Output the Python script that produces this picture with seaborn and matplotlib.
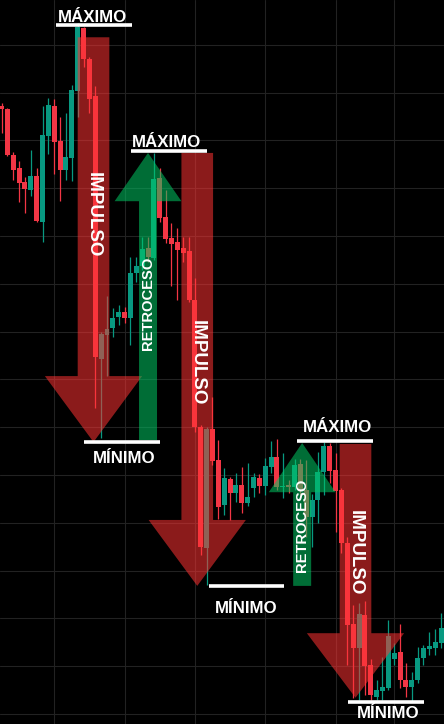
import numpy as np
import pandas as pd
import matplotlib
matplotlib.use("Agg")
import matplotlib.pyplot as plt
from matplotlib.patches import Polygon
import seaborn as sns

# -------------------------------
# Candle data (price units)
# -------------------------------
opens = [227.2, 226.6, 216.9, 214.2, 211.3, 209.6, 212.6, 202.9, 220.9, 227.2,
         219.9, 213.8, 216.3, 230.3, 243.5, 237.0, 229.3, 174.3, 179.3, 180.8,
         183.1, 184.1, 182.8, 192.3, 193.7, 197.5, 195.4, 212.1, 204.0, 199.6,
         198.7, 197.5, 196.9, 186.6, 160.0, 134.8, 159.6, 153.1, 143.8, 149.2,
         146.3, 147.9, 144.2, 147.3, 149.4, 147.7, 151.7, 153.8, 147.5, 147.9,
         147.5, 152.3, 146.9, 141.2, 144.8, 150.6, 156.1, 151.1, 146.9, 135.8,
         118.9, 113.8, 120.7, 110.3, 103.6, 104.8, 105.5, 111.5, 113.0, 107.1,
         105.7, 107.1, 111.7, 113.6, 113.8, 114.9]
highs = [227.8, 226.8, 217.6, 215.7, 212.3, 218.0, 214.2, 227.2, 228.9, 228.7,
         224.9, 225.7, 231.6, 244.6, 243.7, 237.5, 231.4, 179.9, 187.5, 184.9,
         185.6, 185.2, 195.6, 195.6, 199.8, 199.8, 217.4, 214.2, 209.6, 202.7,
         201.7, 199.8, 199.8, 191.2, 160.5, 160.0, 166.3, 157.3, 151.5, 149.6,
         150.4, 151.7, 152.5, 150.4, 150.2, 153.6, 157.1, 157.5, 154.6, 149.0,
         153.4, 153.4, 153.1, 146.1, 154.8, 156.9, 156.7, 154.6, 147.3, 137.1,
         122.8, 123.3, 123.7, 111.5, 107.1, 112.0, 119.7, 114.9, 118.9, 110.7,
         108.8, 114.0, 114.5, 117.2, 117.8, 121.2]
lows = [221.6, 216.7, 211.7, 207.1, 204.8, 208.4, 202.9, 198.7, 217.2, 213.0,
        207.3, 211.7, 211.5, 224.9, 235.4, 225.7, 164.0, 157.7, 170.7, 178.9,
        181.4, 181.8, 177.2, 190.4, 192.9, 194.6, 195.0, 202.9, 198.5, 189.5,
        186.6, 194.6, 186.2, 159.0, 133.3, 127.0, 152.1, 140.8, 141.7, 140.6,
        144.4, 142.1, 143.5, 145.4, 146.3, 145.8, 150.4, 146.9, 145.2, 146.3,
        146.9, 145.8, 137.1, 135.0, 140.0, 145.8, 148.3, 138.1, 133.7, 110.3,
        103.4, 103.0, 104.0, 103.0, 103.0, 103.0, 105.1, 110.3, 105.5, 103.6,
        102.5, 106.5, 110.3, 112.4, 112.4, 113.8]
closes = [226.6, 216.9, 213.8, 211.1, 209.8, 212.6, 203.1, 221.1, 227.4, 219.7,
          213.8, 216.5, 230.5, 243.7, 237.0, 228.7, 174.7, 179.5, 180.5, 182.8,
          184.1, 182.8, 192.3, 193.7, 197.3, 195.6, 211.9, 203.8, 199.4, 198.3,
          197.1, 196.4, 186.6, 160.0, 135.0, 159.6, 152.9, 143.3, 149.4, 146.3,
          147.9, 144.2, 145.4, 149.6, 147.7, 151.9, 153.8, 147.5, 147.7, 147.5,
          152.1, 146.9, 141.2, 144.8, 150.6, 156.1, 150.8, 146.7, 135.8, 118.6,
          113.8, 121.0, 110.1, 104.0, 105.1, 105.7, 116.3, 112.8, 107.1, 105.7,
          107.1, 111.7, 113.8, 114.3, 115.1, 118.0]

# -------------------------------
# Swing arrows
# -------------------------------
arrow_labels = ["IMPULSO", "RETROCESO", "IMPULSO", "RETROCESO", "IMPULSO"]
arrow_x = [15.7, 25.0, 33.4, 51.3, 60.4]
arrow_start = [241.6, 157.3, 217.4, 126.8, 156.5]
arrow_neck = [170.7, 207.3, 140.6, 146.4, 116.9]
arrow_tip = [156.9, 217.4, 126.8, 156.7, 103.4]
label_y = [204.4, 186.0, 173.6, 139.5, 133.7]

# swing levels: text, line start, line end, level, text x, text baseline
level_text = ["MÁXIMO", "MÁXIMO", "MÍNIMO", "MÍNIMO", "MÁXIMO", "MÍNIMO"]
level_x0 = [9.3, 22.1, 14.1, 35.4, 50.4, 59.1]
level_x1 = [22.3, 35.1, 27.0, 48.2, 63.4, 72.1]
level_y = [244.1, 217.8, 156.9, 126.8, 157.2, 102.5]
level_tx = [15.6, 28.2, 21.0, 41.8, 57.3, 65.9]
level_ty = [244.8, 218.6, 152.6, 121.2, 158.9, 99.1]

df = pd.DataFrame({"open": opens, "high": highs, "low": lows, "close": closes})
df["x"] = np.arange(len(df))
df["up"] = df["close"] >= df["open"]

# -------------------------------
# Style
# -------------------------------
sns.set_theme(style="darkgrid", rc={
    "axes.facecolor": "#000000",
    "figure.facecolor": "#000000",
    "grid.color": "#222222",
    "grid.linewidth": 0.8,
})
plt.rcParams["font.family"] = ["Liberation Sans", "DejaVu Sans"]

GREEN = "#089981"
RED = "#f23645"

fig = plt.figure(figsize=(4.44, 7.24), dpi=100)
ax = fig.add_axes([0, 0, 1, 1])

# candles
colors = np.where(df["up"], GREEN, RED)
ax.vlines(df["x"], df["low"], df["high"], colors=colors, linewidth=0.9, zorder=2)
body_bottom = df[["open", "close"]].min(axis=1)
body_height = (df["close"] - df["open"]).abs().clip(lower=0.25)
ax.bar(df["x"], body_height, bottom=body_bottom, width=0.85,
       color=colors, linewidth=0, zorder=3)

# arrows
for lab, cx, s, n, t, ly in zip(arrow_labels, arrow_x, arrow_start,
                                arrow_neck, arrow_tip, label_y):
    if lab == "IMPULSO":
        bw, hw, col, rot, fs = 5.4, 16.6, "#ff3333", -90, 13.5
    else:
        bw, hw, col, rot, fs = 3.07, 11.4, "#00c864", 90, 10.6
    pts = [(cx - bw / 2, s), (cx + bw / 2, s), (cx + bw / 2, n),
           (cx + hw / 2, n), (cx, t), (cx - hw / 2, n), (cx - bw / 2, n)]
    ax.add_patch(Polygon(pts, closed=True, facecolor=col, alpha=0.55,
                         linewidth=0, zorder=4))
    ax.text(cx, ly, lab, rotation=rot, ha="center", va="center",
            color="white", fontsize=fs, fontweight="bold", zorder=6)

# swing levels
ax.hlines(level_y, level_x0, level_x1, colors="white", linewidth=2.6, zorder=5)
for txt, tx, ty in zip(level_text, level_tx, level_ty):
    ax.text(tx, ty, txt, ha="center", va="baseline", color="white",
            fontsize=12.2, fontweight="bold", zorder=6)

ax.set_xlim(-0.256, 75.5)
ax.set_ylim(97.9, 249.4)
ax.set_xticks([9, 21, 33, 45, 57, 67])
ax.set_yticks(np.arange(100, 250, 10))
ax.set_xticklabels([])
ax.set_yticklabels([])
ax.tick_params(length=0)
for sp in ax.spines.values():
    sp.set_visible(False)

fig.savefig("out.png", dpi=100, facecolor="#000000")
